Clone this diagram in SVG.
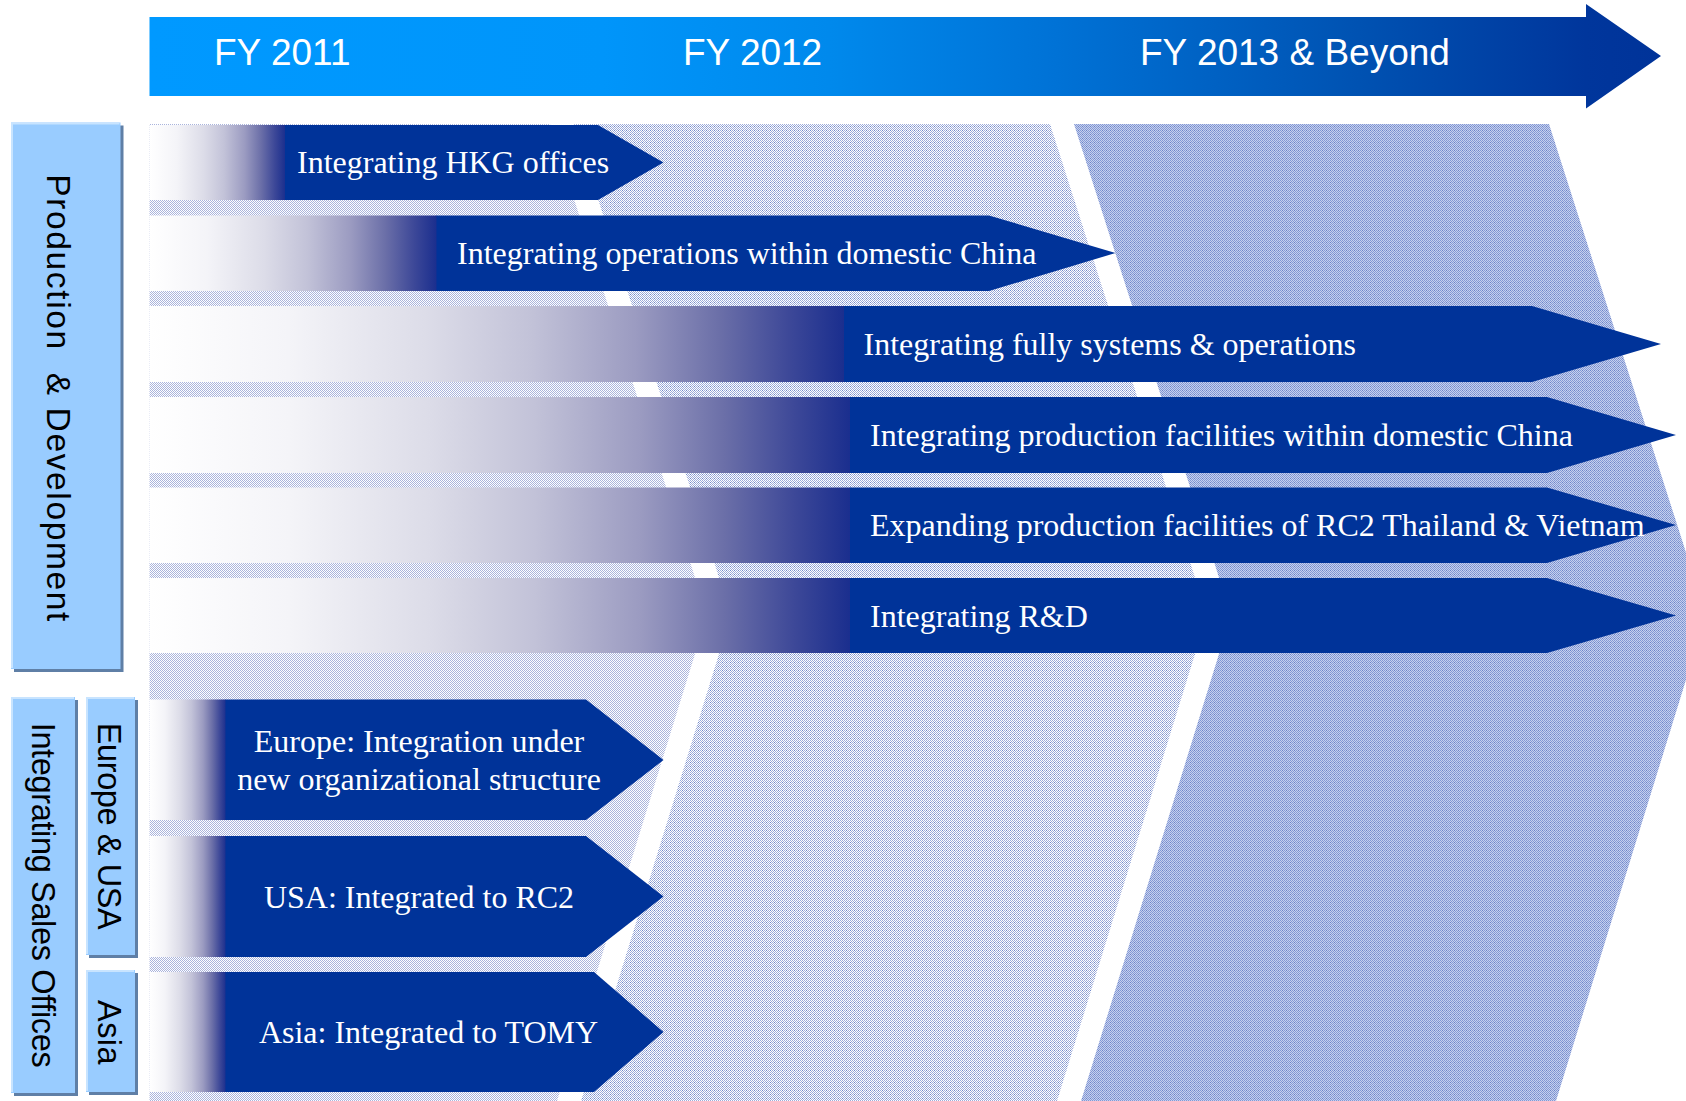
<svg xmlns="http://www.w3.org/2000/svg" width="1686" height="1101" viewBox="0 0 1686 1101">
  <defs>
    <!-- timeline arrow: bright azure to navy -->
    <linearGradient id="timeline" gradientUnits="userSpaceOnUse" x1="149.5" y1="0" x2="1661" y2="0">
      <stop offset="0" stop-color="#0099ff"/>
      <stop offset="0.3" stop-color="#0095fa"/>
      <stop offset="0.45" stop-color="#0089ec"/>
      <stop offset="0.6" stop-color="#0072d6"/>
      <stop offset="0.8" stop-color="#0052b2"/>
      <stop offset="0.95" stop-color="#00369c"/>
      <stop offset="1" stop-color="#003399"/>
    </linearGradient>
    <!-- lead-in fade of each bar: white to navy through lavender grey -->
    <linearGradient id="fade" x1="0" y1="0" x2="1" y2="0">
      <stop offset="0" stop-color="#ffffff"/>
      <stop offset="0.2" stop-color="#f4f4f8"/>
      <stop offset="0.4" stop-color="#dcdce8"/>
      <stop offset="0.55" stop-color="#c2c2d8"/>
      <stop offset="0.7" stop-color="#9b9bc1"/>
      <stop offset="0.82" stop-color="#6b6fa8"/>
      <stop offset="0.92" stop-color="#3d4898"/>
      <stop offset="1" stop-color="#1a2e8e"/>
    </linearGradient>
    <!-- dotted screens for the period panels -->
    <pattern id="screenA" width="2" height="2" patternUnits="userSpaceOnUse">
      <rect width="2" height="2" fill="#ffffff"/>
      <rect width="1" height="1" fill="#aab4dc"/>
      <rect x="1" y="1" width="1" height="1" fill="#aab4dc"/>
    </pattern>
    <pattern id="screenB" width="4" height="4" patternUnits="userSpaceOnUse">
      <rect width="4" height="4" fill="#ffffff"/>
      <rect width="1" height="1" fill="#9eacda"/>
      <rect x="2" width="1" height="1" fill="#9eacda"/>
      <rect x="1" y="1" width="1" height="1" fill="#9eacda"/>
      <rect x="3" y="1" width="1" height="1" fill="#9eacda"/>
      <rect y="2" width="1" height="1" fill="#9eacda"/>
      <rect x="2" y="2" width="1" height="1" fill="#7088c8"/>
      <rect x="1" y="3" width="1" height="1" fill="#9eacda"/>
      <rect x="3" y="3" width="1" height="1" fill="#9eacda"/>
    </pattern>
    <pattern id="screenC" width="4" height="4" patternUnits="userSpaceOnUse">
      <rect width="4" height="4" fill="#c6d0ee"/>
      <rect width="1" height="1" fill="#8499d4"/>
      <rect x="2" width="1" height="1" fill="#8499d4"/>
      <rect x="1" y="1" width="1" height="1" fill="#8499d4"/>
      <rect x="3" y="1" width="1" height="1" fill="#8499d4"/>
      <rect y="2" width="1" height="1" fill="#8499d4"/>
      <rect x="2" y="2" width="1" height="1" fill="#6a82c6"/>
      <rect x="1" y="3" width="1" height="1" fill="#8499d4"/>
      <rect x="3" y="3" width="1" height="1" fill="#8499d4"/>
    </pattern>
  </defs>
  <style>
    .bar { fill: #003399; }
    .fade { fill: url(#fade); }
    .txt { font-family: "Liberation Serif", "Times New Roman", serif; font-size: 32px; fill: #ffffff; }
    .mid { text-anchor: middle; }
    .fy { font-family: "Liberation Sans", Arial, sans-serif; font-size: 37px; fill: #ffffff; }
    .tab { fill: #99ccff; }
    .tabShadow { fill: #5f7fa6; }
    .tabEdge { fill: none; stroke: #c8e4ff; stroke-width: 2; }
    .vt { font-family: "Liberation Sans", Arial, sans-serif; fill: #000000; text-anchor: middle; }
  </style>

  <rect width="1686" height="1101" fill="#ffffff"/>

  <!-- period panels (chevrons) -->
  <g id="panels">
    <polygon id="panel-fy2011" fill="url(#screenA)" points="149.5,124 550,124 707,615 557,1101 149.5,1101"/>
    <polygon id="panel-fy2012" fill="url(#screenB)" points="574,124 1050,124 1207,615 1057,1101 581,1101 731,615"/>
    <polygon id="panel-fy2013" fill="url(#screenC)" points="1074,124 1549,124 1706,615 1556,1101 1081,1101 1231,615"/>
  </g>

  <!-- timeline header -->
  <g id="timeline-header">
    <polygon fill="url(#timeline)" points="149.5,17 1586,17 1586,4 1661,56 1586,108.5 1586,96 149.5,96"/>
    <text class="fy" x="214" y="65">FY 2011</text>
    <text class="fy" x="683" y="65">FY 2012</text>
    <text class="fy" x="1140" y="65">FY 2013 &amp; Beyond</text>
  </g>

  <!-- side tabs -->
  <g id="tab-production">
    <rect class="tabShadow" x="14" y="125.5" width="109.5" height="546.5"/>
    <rect class="tab" x="11" y="122.5" width="109.5" height="546.5"/>
    <polyline class="tabEdge" points="12,668 12,123.5 119.5,123.5"/>
    <text class="vt" font-size="33.5" transform="translate(46.5,397.8) rotate(90)" textLength="447" lengthAdjust="spacing" xml:space="preserve">Production  &amp; Development</text>
  </g>
  <g id="tab-sales">
    <rect class="tabShadow" x="14" y="700" width="64" height="396"/>
    <rect class="tab" x="11" y="697" width="64" height="396"/>
    <polyline class="tabEdge" points="12,1092 12,698 74,698"/>
    <text class="vt" font-size="32.5" transform="translate(31.5,895.2) rotate(90)" textLength="345" lengthAdjust="spacing">Integrating Sales Offices</text>
  </g>
  <g id="tab-europe-usa">
    <rect class="tabShadow" x="89" y="700" width="49" height="258"/>
    <rect class="tab" x="86" y="697" width="49" height="258"/>
    <polyline class="tabEdge" points="87,954 87,698 134,698"/>
    <text class="vt" font-size="32.5" transform="translate(98.3,826.3) rotate(90)" textLength="207" lengthAdjust="spacing">Europe &amp; USA</text>
  </g>
  <g id="tab-asia">
    <rect class="tabShadow" x="89" y="973" width="49" height="122"/>
    <rect class="tab" x="86" y="970" width="49" height="122"/>
    <polyline class="tabEdge" points="87,1091 87,971 134,971"/>
    <text class="vt" font-size="32.5" transform="translate(98.3,1032.3) rotate(90)" textLength="64.5" lengthAdjust="spacing">Asia</text>
  </g>

  <!-- production & development bars -->
  <g id="bar-hkg">
    <rect class="fade" x="149.5" y="125" width="136" height="75"/>
    <polygon class="bar" points="285,125 598,125 663.5,162.5 598,200 285,200"/>
    <text class="txt" x="297" y="173">Integrating HKG offices</text>
  </g>
  <g id="bar-domestic-ops">
    <rect class="fade" x="149.5" y="215.5" width="287.5" height="75.5"/>
    <polygon class="bar" points="436.5,215.5 989,215.5 1115.5,253 989,291 436.5,291"/>
    <text class="txt" x="457" y="264">Integrating operations within domestic China</text>
  </g>
  <g id="bar-systems">
    <rect class="fade" x="149.5" y="306" width="695" height="76"/>
    <polygon class="bar" points="844,306 1532,306 1661,344 1532,382 844,382"/>
    <text class="txt" x="863.5" y="355">Integrating fully systems &amp; operations</text>
  </g>
  <g id="bar-production-china">
    <rect class="fade" x="149.5" y="397" width="701" height="76"/>
    <polygon class="bar" points="850,397 1547,397 1676,435 1547,473 850,473"/>
    <text class="txt" x="870" y="446">Integrating production facilities within domestic China</text>
  </g>
  <g id="bar-thailand-vietnam">
    <rect class="fade" x="149.5" y="487.5" width="701" height="75.5"/>
    <polygon class="bar" points="850,487.5 1547,487.5 1676,525 1547,563 850,563"/>
    <text class="txt" x="870" y="536">Expanding production facilities of RC2 Thailand &amp; Vietnam</text>
  </g>
  <g id="bar-rnd">
    <rect class="fade" x="149.5" y="578" width="701" height="75"/>
    <polygon class="bar" points="850,578 1547,578 1676,615.5 1547,653 850,653"/>
    <text class="txt" x="870" y="626.5">Integrating R&amp;D</text>
  </g>

  <!-- sales office bars -->
  <g id="bar-europe">
    <rect class="fade" x="149.5" y="699.5" width="76.5" height="120.5"/>
    <polygon class="bar" points="225.5,699.5 586,699.5 663.5,760 586,820 225.5,820"/>
    <text class="txt mid" x="419" y="752">Europe: Integration under</text>
    <text class="txt mid" x="419" y="790">new organizational structure</text>
  </g>
  <g id="bar-usa">
    <rect class="fade" x="149.5" y="836" width="76.5" height="121"/>
    <polygon class="bar" points="225.5,836 586,836 663.5,896.5 586,957 225.5,957"/>
    <text class="txt mid" x="419" y="907.5">USA: Integrated to RC2</text>
  </g>
  <g id="bar-asia">
    <rect class="fade" x="149.5" y="972" width="76.5" height="120"/>
    <polygon class="bar" points="225.5,972 594,972 663.5,1032 594,1092 225.5,1092"/>
    <text class="txt mid" x="428.5" y="1043">Asia: Integrated to TOMY</text>
  </g>
</svg>
